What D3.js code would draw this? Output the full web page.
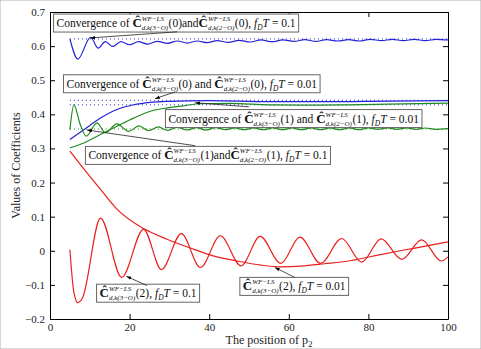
<!DOCTYPE html>
<html>
<head>
<meta charset="utf-8">
<script src="https://cdn.jsdelivr.net/npm/d3@7"></script>
<style>
  body { margin: 0; background: #fff; }
  svg { display: block; font-family: "Liberation Serif", "Times New Roman", serif; }
  svg text { white-space: pre; }
</style>
</head>
<body>
<div id="chart"></div>
<script>
// ---- data ----
const xTicks = [0, 20, 40, 60, 80, 100];
const yTicks = [-0.2, -0.1, 0, 0.1, 0.2, 0.3, 0.4, 0.5, 0.6, 0.7];

// C(0), fDT = 0.1 (blue, oscillating)
const blueOsc = [[5,0.621],[7,0.562],[10.2,0.626],[12.1,0.594],[13.9,0.613],[15.8,0.599],[17.8,0.613],[20,0.604],
  [22.2,0.613],[24.5,0.606],[27,0.614],[29.5,0.608],[32,0.615],[34.5,0.609],[37,0.615],[39.5,0.61],[42,0.616],
  [44.8,0.611],[47.5,0.617],[50.3,0.612],[53,0.618],[55.8,0.613],[58.5,0.618],[61.3,0.614],[64,0.619],[66.8,0.614],
  [69.5,0.619],[72.3,0.615],[75,0.619],[77.8,0.615],[80.5,0.62],[83.3,0.616],[86,0.62],[88.8,0.616],[91.5,0.62],
  [94.3,0.616],[97,0.62],[100,0.618]];
// C(0), fDT = 0.01 (blue, smooth)
const blueSmooth = [[5,0.326],[8.5,0.355],[12.7,0.389],[16.8,0.414],[21,0.428],[25.2,0.435],[30,0.438],[40,0.44],
  [55,0.437],[70,0.437],[85,0.439],[100,0.44]];
// C(1), fDT = 0.1 (green, oscillating)
const greenOsc = [[5,0.355],[6,0.428],[7.6,0.37],[9.1,0.336],[11.8,0.375],[13.9,0.346],[16.8,0.372],[19.8,0.35],
  [22.3,0.366],[24.8,0.352],[27.2,0.363],[29.6,0.353],[32,0.362],[34.4,0.354],[36.8,0.361],[39.2,0.354],[41.6,0.361],
  [44,0.355],[46.4,0.36],[48.8,0.355],[51.2,0.36],[53.6,0.355],[56,0.36],[58.4,0.355],[60.8,0.36],[63.2,0.355],
  [65.6,0.36],[68,0.355],[70.4,0.36],[72.8,0.355],[75.2,0.36],[77.6,0.355],[80,0.36],[82.4,0.356],[84.8,0.36],
  [87.2,0.356],[89.6,0.36],[92,0.356],[94.4,0.36],[96.8,0.356],[100,0.358]];
// C(1), fDT = 0.01 (green, smooth)
const greenSmooth = [[5,0.302],[8.5,0.316],[12.7,0.341],[16.8,0.365],[21,0.389],[25.2,0.409],[29.5,0.419],
  [33.5,0.425],[37.7,0.431],[45,0.432],[55,0.428],[65,0.427],[75,0.428],[85,0.43],[100,0.433]];
// C(2), fDT = 0.1 (red, oscillating)
const redOsc = [[5,0.003],[6,-0.122],[7,-0.152],[8.1,-0.14],[12.7,0.096],[18,-0.078],[23.5,0.063],[28,-0.055],
  [33,0.05],[37.8,-0.049],[42.8,0.044],[48,-0.044],[52.8,0.042],[58,-0.037],[62.8,0.04],[68,-0.037],[73.3,0.036],
  [78.3,-0.033],[83.2,0.035],[88.4,-0.025],[93.4,0.032],[98.3,-0.03],[100,-0.018]];
// C(2), fDT = 0.01 (red, smooth)
const redSmooth = [[5,0.292],[8.5,0.24],[12.7,0.18],[16.8,0.122],[23.5,0.065],[29.4,0.034],[36,0.005],[41,-0.015],
  [47,-0.03],[53,-0.042],[58,-0.047],[63,-0.045],[69,-0.038],[75,-0.03],[81,-0.016],[88,0],[94,0.013],[100,0.026]];

// dotted reference levels
const refLevels = [
  { y: 0.621, color: "#2b2bd9" },
  { y: 0.441, color: "#2b2bd9" },
  { y: 0.428, color: "#2b2bd9" },
  { y: 0.357, color: "#2a8a2a" },
];

// annotation boxes: box top-left, arrow tail, arrow head (data units)
const notes = [
  { box: [0.9, 0.694], tail: [32, 0.642], head: [10.1, 0.624], parts: ["Convergence of ", "C3", "(0)and", "C2", "(0), ", "F", " = 0.1"] },
  { box: [3.4, 0.516], tail: [31.5, 0.466], head: [26.4, 0.446], parts: ["Convergence of ", "C3", "(0) and ", "C2", "(0), ", "F", " = 0.01"] },
  { box: [29, 0.414], tail: [50, 0.422], head: [36.5, 0.434], parts: ["Convergence of ", "C3", "(1) and ", "C2", "(1), ", "F", " = 0.01"] },
  { box: [8.9, 0.306], tail: [36.5, 0.308], head: [9.3, 0.354], parts: ["Convergence of ", "C3", "(1)and", "C2", "(1), ", "F", " = 0.1"] },
  { box: [11.7, -0.098], tail: [24.4, -0.102], head: [19.2, -0.075], parts: ["C3", "(2), ", "F", " = 0.1"] },
  { box: [47.7, -0.078], tail: [61.5, -0.078], head: [56.5, -0.049], parts: ["C3", "(2), ", "F", " = 0.01"] },
];

// ---- setup ----
const W = 481, H = 349;
const margin = { top: 12, right: 33, bottom: 30, left: 50 };

const svg = d3.select("#chart").append("svg").attr("width", W).attr("height", H);
svg.append("rect").attr("width", W).attr("height", H).attr("fill", "#fff")
  .attr("stroke", "#b0b0b0").attr("stroke-width", 1);

const x = d3.scaleLinear().domain([0, 100]).range([margin.left, W - margin.right]);
const y = d3.scaleLinear().domain([-0.2, 0.7]).range([H - margin.bottom, margin.top]);

// axes (ticks inward, box on all sides)
const tickFmt = (d) => (Math.abs(d) < 1e-9 ? "0" : d3.format(".1f")(d));
const axStyle = (g) => {
  g.select(".domain").attr("stroke", "#000").attr("stroke-width", 1);
  g.selectAll(".tick line").attr("stroke", "#000");
  g.selectAll(".tick text").attr("fill", "#222").style("font-size", "11px")
    .style("font-family", '"Liberation Serif", serif');
};
svg.append("g").attr("transform", `translate(0,${y(-0.2)})`)
  .call(d3.axisBottom(x).tickValues(xTicks).tickSize(-5).tickPadding(4).tickSizeOuter(0)).call(axStyle);
svg.append("g").attr("transform", `translate(0,${y(0.7)})`)
  .call(d3.axisTop(x).tickValues(xTicks).tickSize(-5).tickFormat("").tickSizeOuter(0)).call(axStyle);
svg.append("g").attr("transform", `translate(${x(0)},0)`)
  .call(d3.axisLeft(y).tickValues(yTicks).tickSize(-5).tickPadding(5).tickFormat(tickFmt).tickSizeOuter(0)).call(axStyle);
svg.append("g").attr("transform", `translate(${x(100)},0)`)
  .call(d3.axisRight(y).tickValues(yTicks).tickSize(-5).tickFormat("").tickSizeOuter(0)).call(axStyle);

// axis labels
svg.append("text").attr("x", (x(0) + x(100)) / 2 + 20).attr("y", H - 5)
  .attr("text-anchor", "middle").style("font-size", "12px").attr("fill", "#222")
  .text("The position of p").append("tspan").attr("dy", 3).style("font-size", "9px").text("2");
svg.append("text").attr("transform", `translate(20,${(y(0.7) + y(-0.2)) / 2}) rotate(-90)`)
  .attr("text-anchor", "middle").style("font-size", "12px").attr("fill", "#222")
  .text("Values of Coefficients");

// ---- lines ----
const line = d3.line().x((d) => x(d[0])).y((d) => y(d[1])).curve(d3.curveMonotoneX);

refLevels.forEach((r) => {
  svg.append("path").datum([[5, r.y], [100, r.y]]).attr("d", line)
    .attr("fill", "none").attr("stroke", r.color).attr("stroke-width", 1)
    .attr("stroke-dasharray", "1,3");
});

const series = [
  { d: blueOsc, c: "#2323d6" },
  { d: blueSmooth, c: "#2323d6" },
  { d: greenSmooth, c: "#1f8a1f" },
  { d: greenOsc, c: "#1f8a1f" },
  { d: redSmooth, c: "#e8201f" },
  { d: redOsc, c: "#e8201f" },
];
series.forEach((s) => {
  svg.append("path").datum(s.d).attr("d", line)
    .attr("fill", "none").attr("stroke", s.c).attr("stroke-width", 1.2);
});

// ---- annotations ----
svg.append("defs").append("marker").attr("id", "ah").attr("viewBox", "0 0 10 10")
  .attr("refX", 10).attr("refY", 5).attr("markerWidth", 6).attr("markerHeight", 6)
  .attr("orient", "auto").append("path").attr("d", "M0,1.5L10,5L0,8.5Z").attr("fill", "#000");

const FS = 11.5;
function run(g, cx, base, txt, size, style, weight) {
  const t = g.append("text").attr("x", cx).attr("y", base).style("font-size", size + "px")
    .style("font-style", style || "normal").style("font-weight", weight || "normal")
    .attr("fill", "#111").text(txt);
  return t.node().getComputedTextLength();
}

notes.forEach((n) => {
  const g = svg.append("g");
  const bx = x(n.box[0]), by = y(n.box[1]);
  const base = by + 13;
  let cx = bx + 3;
  n.parts.forEach((p) => {
    if (p === "C3" || p === "C2") {
      cx += run(g, cx, base, "Ĉ", FS + 1.5, "normal", "bold");
      const w1 = run(g, cx, base - 6, "WF−LS", 7, "italic");
      const w2 = run(g, cx, base + 3, p === "C3" ? "d,k(3−O)" : "d,k(2−O)", 7, "italic");
      cx += Math.max(w1, w2) + 0.5;
    } else if (p === "F") {
      cx += run(g, cx, base, "f", FS, "italic");
      cx += run(g, cx, base + 3, "D", 7.5, "italic");
      cx += run(g, cx, base, "T", FS, "italic");
    } else {
      cx += run(g, cx, base, p, FS);
    }
  });
  g.insert("rect", ":first-child").attr("x", bx).attr("y", by)
    .attr("width", cx - bx + 3).attr("height", 18)
    .attr("fill", "#fff").attr("stroke", "#666").attr("stroke-width", 1);
  svg.append("line").attr("x1", x(n.tail[0])).attr("y1", y(n.tail[1]))
    .attr("x2", x(n.head[0])).attr("y2", y(n.head[1]))
    .attr("stroke", "#222").attr("stroke-width", 0.8).attr("marker-end", "url(#ah)");
});
</script>
</body>
</html>
